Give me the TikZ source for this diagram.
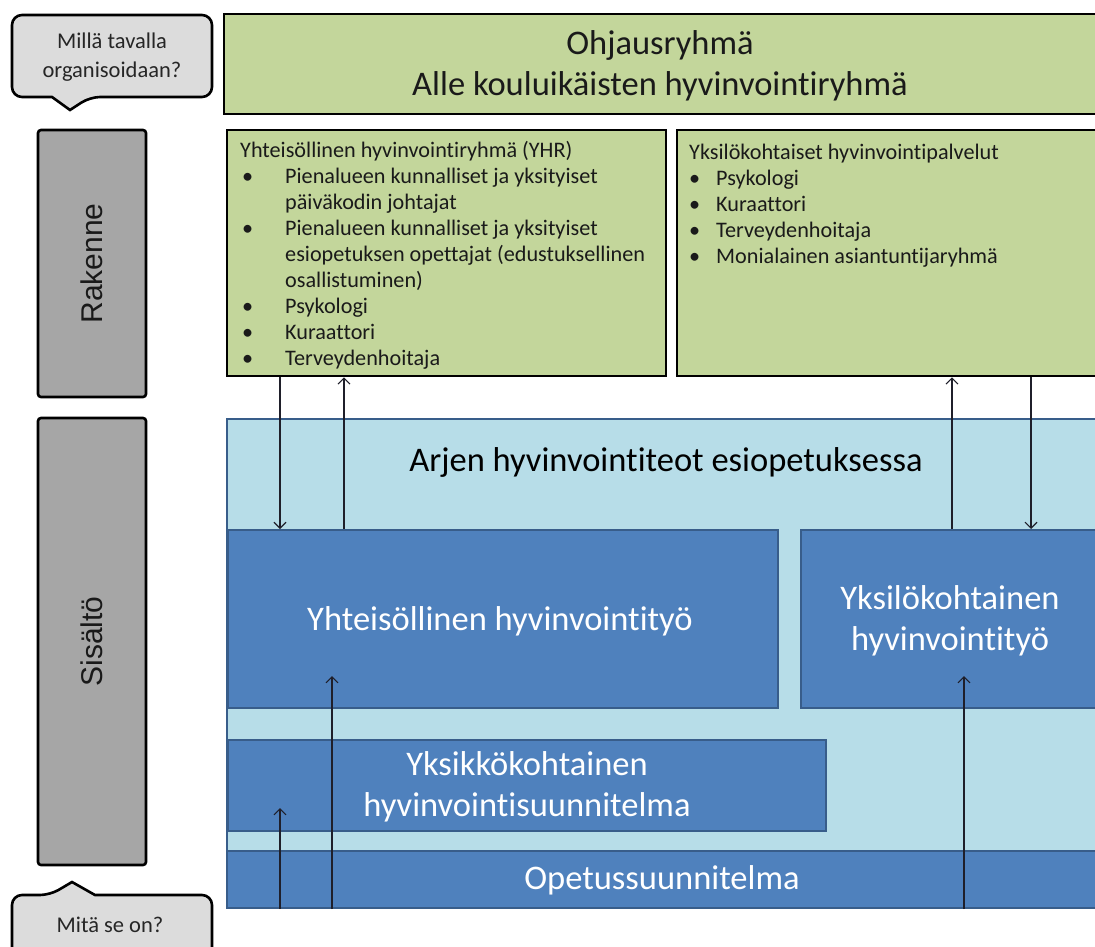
\documentclass[tikz,border=0pt]{standalone}
\usepackage{fontspec}
\setmainfont{Carlito}[RawFeature={-liga;-clig;-calt;-dlig}]
\newfontfamily\arialfont{Liberation Sans}
\usetikzlibrary{arrows.meta}
\definecolor{gfill}{HTML}{C3D69B}
\definecolor{sgray}{HTML}{A6A6A6}
\definecolor{bubfill}{HTML}{DCDCDC}
\definecolor{lbfill}{HTML}{B7DDE8}
\definecolor{bfill}{HTML}{4F81BD}
\definecolor{bborder}{HTML}{385D8A}
\definecolor{txtdark}{HTML}{1A1A1A}
\definecolor{arrcol}{HTML}{1F1F2A}
\newcommand\fbig{\fontsize{34.5pt}{41pt}\selectfont}
\newcommand\fsmall{\fontsize{22.2pt}{26pt}\selectfont}
\newcommand\fbub{\fontsize{22.5pt}{29pt}\selectfont}
\newcommand\fside{\arialfont\fontsize{30pt}{34pt}\selectfont}
\begin{document}
\begin{tikzpicture}[x=1pt,y=-1pt,
  gbox/.style={draw=black, line width=2.6pt, fill=gfill, inner sep=0pt},
  sidebox/.style={draw=black, line width=2.6pt, fill=sgray, rounded corners=3pt, inner sep=0pt},
  lbbox/.style={draw=bborder, line width=2pt, fill=lbfill, inner sep=0pt},
  bluebox/.style={draw=bborder, line width=2pt, fill=bfill, inner sep=0pt},
  bubble/.style={draw=black, line width=2.6pt, fill=bubfill},
  bigtext/.style={font=\fbig, align=center, inner sep=0pt},
  whitetext/.style={bigtext, text=white},
  listtext/.style={font=\fsmall, align=left, inner sep=0pt, anchor=north west, text=txtdark},
  bubtext/.style={font=\fbub, align=center, inner sep=0pt, text=black!85},
  sidetext/.style={font=\fside, rotate=90, inner sep=0pt, text=black!90},
  conn/.style={draw=arrcol, line width=1.1pt, -{Straight Barb[length=6pt,width=12pt,line width=1.1pt]}},
]
\useasboundingbox (0,0) rectangle (1095,946);
\fill[white] (0,0) rectangle (1095,946);

% bubbles
\draw[bubble] (90,97) -- (70,110) -- (52,97) [rounded corners=10pt] -- (12,97) -- (12,15) -- (212,15) -- (212,97) -- cycle;
\node[bubtext] (q1) at (112,57) {Millä tavalla\\organisoidaan?};
\draw[bubble] (50,895) -- (72,882) -- (95,895) [rounded corners=10pt] -- (212,895) -- (212,965) -- (12,965) -- (12,895) -- cycle;
\node[bubtext] (q2) at (110,925) {Mitä se on?};

% side boxes
\node[sidebox, minimum width=108pt, minimum height=267pt] (rak) at (92,263.5) {};
\node[sidetext] (raktxt) at (rak.center) {Rakenne};
\node[sidebox, minimum width=108pt, minimum height=447pt] (sis) at (92,641.5) {};
\node[sidetext] (sistxt) at (sis.center) {Sisältö};

% green boxes
\node[gbox, minimum width=878pt, minimum height=100pt] (ohj) at (663,64) {};
\node[bigtext, text=txtdark] (ohjtxt) at (660,66) {Ohjausryhmä\\Alle kouluikäisten hyvinvointiryhmä};
\node[gbox, minimum width=439pt, minimum height=246pt] (yhr) at (446.5,253) {};
\node[listtext] (yhrtxt) at (240,141) {Yhteisöllinen hyvinvointiryhmä (YHR)\\
\hspace*{2pt}\makebox[43pt][l]{\textbullet}Pienalueen kunnalliset ja yksityiset\\
\hspace*{45pt}päiväkodin johtajat\\
\hspace*{2pt}\makebox[43pt][l]{\textbullet}Pienalueen kunnalliset ja yksityiset\\
\hspace*{45pt}esiopetuksen opettajat (edustuksellinen\\
\hspace*{45pt}osallistuminen)\\
\hspace*{2pt}\makebox[43pt][l]{\textbullet}Psykologi\\
\hspace*{2pt}\makebox[43pt][l]{\textbullet}Kuraattori\\
\hspace*{2pt}\makebox[43pt][l]{\textbullet}Terveydenhoitaja};
\node[gbox, minimum width=428pt, minimum height=246pt] (yks) at (891,253) {};
\node[listtext] (ykstxt) at (689,144) {Yksilökohtaiset hyvinvointipalvelut\\
\makebox[27pt][l]{\textbullet}Psykologi\\
\makebox[27pt][l]{\textbullet}Kuraattori\\
\makebox[27pt][l]{\textbullet}Terveydenhoitaja\\
\makebox[27pt][l]{\textbullet}Monialainen asiantuntijaryhmä};

% blue area
\node[lbbox, minimum width=878pt, minimum height=489pt] (arj) at (666,663.5) {};
\node[bigtext, text=black] (arjtxt) at (666,462) {Arjen hyvinvointiteot esiopetuksessa};
\node[bluebox, minimum width=550pt, minimum height=178pt] (yt) at (503,619) {};
\node[whitetext] (yttxt) at (500,621) {Yhteisöllinen hyvinvointityö};
\node[bluebox, minimum width=304pt, minimum height=178pt] (yk) at (953,619) {};
\node[whitetext] (yktxt) at (950,621) {Yksilökohtainen\\hyvinvointityö};
\node[bluebox, minimum width=598pt, minimum height=91pt] (ykk) at (527,785.5) {};
\node[whitetext] (ykktxt) at (527,787) {Yksikkökohtainen\\hyvinvointisuunnitelma};
\node[bluebox, minimum width=878pt, minimum height=57pt] (ops) at (666,879.5) {};
\node[whitetext] (opstxt) at (662,880) {Opetussuunnitelma};

% connectors
\coordinate (c1) at (280,0);
\coordinate (c2) at (344,0);
\coordinate (c3) at (952,0);
\coordinate (c4) at (1031,0);
\coordinate (e5) at (332,676);
\coordinate (e6) at (280,808);
\coordinate (e7) at (964,676);
\draw[conn] (yhr.south -| c1) -- (yt.north -| c1);
\draw[conn] (yt.north -| c2) -- (yhr.south -| c2);
\draw[conn] (yk.north -| c3) -- (yks.south -| c3);
\draw[conn] (yks.south -| c4) -- (yk.north -| c4);
\draw[conn] (ops.south -| e5) -- (e5);
\draw[conn] (ops.south -| e6) -- (e6);
\draw[conn] (ops.south -| e7) -- (e7);
\end{tikzpicture}
\end{document}
